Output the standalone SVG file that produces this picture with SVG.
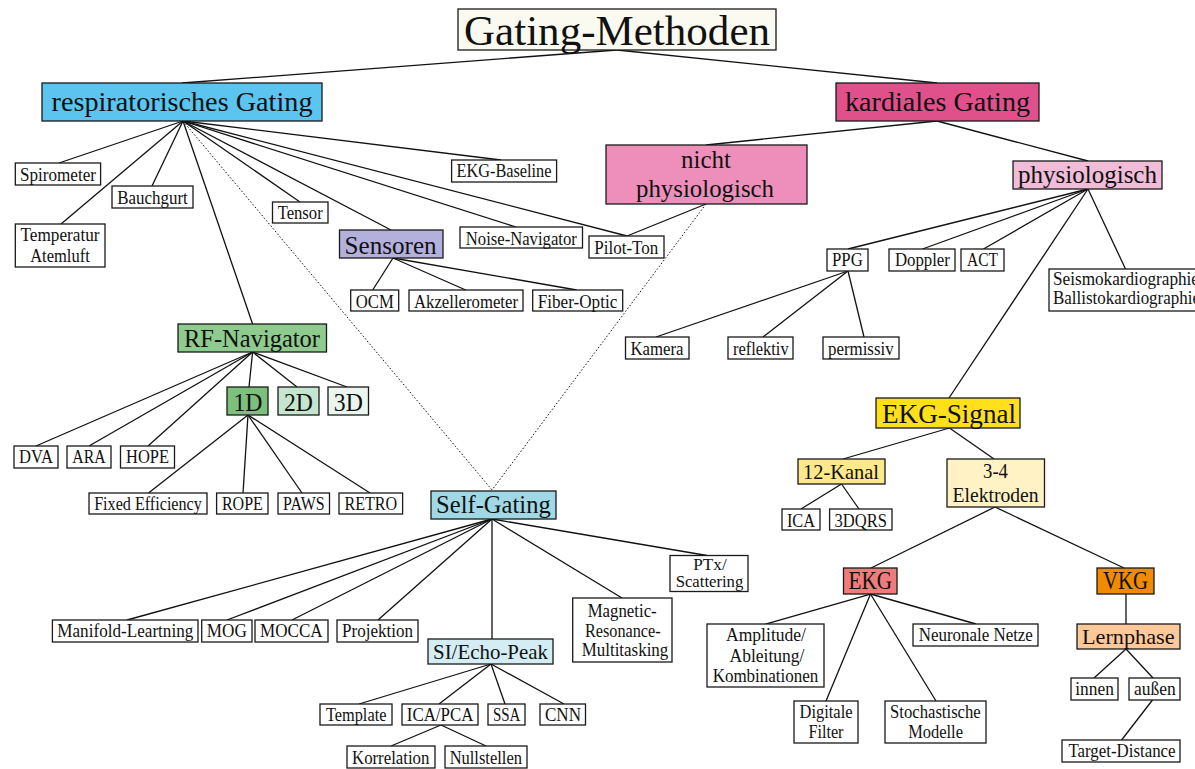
<svg xmlns="http://www.w3.org/2000/svg" width="1195" height="769" viewBox="0 0 1195 769">
<style>
rect{stroke:#1a1a1a;stroke-width:1.3;fill:#fff}
text{font-family:"Liberation Serif","Times New Roman",serif;fill:#111;text-anchor:middle}
.s{font-size:19px}
.m{font-size:22px}
.l{font-size:26px}
.c line{stroke:#111;stroke-width:1.3}
.c .d{stroke-width:1;stroke-dasharray:1.5 2}
</style>
<rect x="0" y="0" width="1195" height="769" style="fill:#fff;stroke:none"/>
<g id="connectors" class="c">
<line x1="617" y1="50" x2="182" y2="83"/>
<line x1="617" y1="50" x2="937" y2="83"/>
<line x1="183" y1="121" x2="59" y2="163"/>
<line x1="183" y1="121" x2="61" y2="224"/>
<line x1="183" y1="121" x2="152" y2="186"/>
<line x1="183" y1="121" x2="252.6" y2="324"/>
<line x1="183" y1="121" x2="300" y2="202"/>
<line x1="183" y1="121" x2="391" y2="230"/>
<line x1="183" y1="121" x2="516" y2="227"/>
<line x1="183" y1="121" x2="501" y2="160"/>
<line x1="183" y1="121" x2="627" y2="236"/>
<line class="d" x1="183" y1="121" x2="492" y2="490"/>
<line class="d" x1="706" y1="204" x2="492" y2="490"/>
<line x1="937" y1="121" x2="706" y2="145"/>
<line x1="937" y1="121" x2="1088" y2="161"/>
<line x1="706" y1="204" x2="627" y2="236"/>
<line x1="1088" y1="189" x2="848" y2="249"/>
<line x1="1088" y1="189" x2="922.5" y2="249"/>
<line x1="1088" y1="189" x2="983.5" y2="249"/>
<line x1="1088" y1="189" x2="1125.5" y2="269"/>
<line x1="1088" y1="189" x2="949" y2="398"/>
<line x1="393" y1="258" x2="372.7" y2="290"/>
<line x1="393" y1="258" x2="465.7" y2="290"/>
<line x1="393" y1="258" x2="576.7" y2="290"/>
<line x1="848" y1="271" x2="656" y2="337"/>
<line x1="848" y1="271" x2="763" y2="337"/>
<line x1="848" y1="271" x2="864" y2="337"/>
<line x1="252.6" y1="352" x2="36" y2="446"/>
<line x1="252.6" y1="352" x2="89" y2="446"/>
<line x1="252.6" y1="352" x2="148" y2="446"/>
<line x1="252.6" y1="352" x2="249" y2="387"/>
<line x1="252.6" y1="352" x2="297" y2="387"/>
<line x1="252.6" y1="352" x2="347" y2="387"/>
<line x1="248" y1="415" x2="148.5" y2="493"/>
<line x1="248" y1="415" x2="243" y2="493"/>
<line x1="248" y1="415" x2="302" y2="493"/>
<line x1="248" y1="415" x2="370" y2="493"/>
<line x1="492" y1="519" x2="127" y2="620"/>
<line x1="492" y1="519" x2="227" y2="620"/>
<line x1="492" y1="519" x2="292" y2="620"/>
<line x1="492" y1="519" x2="378" y2="620"/>
<line x1="492" y1="519" x2="492" y2="639"/>
<line x1="492" y1="519" x2="622" y2="598"/>
<line x1="492" y1="519" x2="707" y2="555.5"/>
<line x1="491" y1="664" x2="359" y2="704"/>
<line x1="491" y1="664" x2="439" y2="704"/>
<line x1="491" y1="664" x2="505" y2="704"/>
<line x1="491" y1="664" x2="564" y2="704"/>
<line x1="441" y1="725" x2="391" y2="746"/>
<line x1="441" y1="725" x2="486" y2="746"/>
<line x1="949.5" y1="428" x2="843" y2="459"/>
<line x1="949.5" y1="428" x2="994" y2="459"/>
<line x1="841.5" y1="484" x2="801" y2="509"/>
<line x1="841.5" y1="484" x2="859" y2="509"/>
<line x1="995" y1="507" x2="871" y2="568"/>
<line x1="995" y1="507" x2="1124" y2="568"/>
<line x1="870.5" y1="594" x2="765.5" y2="624"/>
<line x1="870.5" y1="594" x2="826" y2="701"/>
<line x1="870.5" y1="594" x2="936" y2="701"/>
<line x1="870.5" y1="594" x2="976" y2="624"/>
<line x1="1126" y1="594" x2="1126" y2="624"/>
<line x1="1126" y1="649" x2="1094" y2="678"/>
<line x1="1126" y1="649" x2="1153" y2="678"/>
<line x1="1152.5" y1="700" x2="1121.6" y2="740"/>
</g>

<g id="title"><rect x="458" y="9" width="318" height="41" style="fill:#fbfaf0"/><text x="617" y="45" style="font-size:42px" textLength="306" lengthAdjust="spacingAndGlyphs">Gating-Methoden</text></g>
<g id="resp"><rect x="42" y="83" width="280" height="38" style="fill:#5bc5f0"/><text x="182" y="111" style="font-size:28px" textLength="261" lengthAdjust="spacingAndGlyphs">respiratorisches Gating</text></g>
<g id="kard"><rect x="836" y="83" width="203" height="38" style="fill:#e0508a"/><text x="937.5" y="111" style="font-size:28px" textLength="185" lengthAdjust="spacingAndGlyphs">kardiales Gating</text></g>
<g id="nichtphys"><rect x="606" y="145" width="201" height="59" style="fill:#ee8fbb"/><text x="706" y="168" style="font-size:25px" textLength="50" lengthAdjust="spacingAndGlyphs">nicht</text><text x="705" y="197" style="font-size:25px" textLength="138" lengthAdjust="spacingAndGlyphs">physiologisch</text></g>
<g id="phys"><rect x="1013" y="161" width="149" height="28" style="fill:#f0bcd8"/><text x="1087.5" y="183" style="font-size:25px" textLength="139" lengthAdjust="spacingAndGlyphs">physiologisch</text></g>

<g id="spirometer"><rect x="15.3" y="163" width="85.3" height="22"/><text class="s" x="58" y="180.5" textLength="76" lengthAdjust="spacingAndGlyphs">Spirometer</text></g>
<g id="bauchgurt"><rect x="112" y="186" width="81" height="22"/><text class="s" x="152.5" y="203.5" textLength="70.5" lengthAdjust="spacingAndGlyphs">Bauchgurt</text></g>
<g id="temperatur"><rect x="15.3" y="224" width="89.7" height="43"/><text class="s" x="60" y="241" textLength="79" lengthAdjust="spacingAndGlyphs">Temperatur</text><text class="s" x="60" y="261.5" textLength="59.7" lengthAdjust="spacingAndGlyphs">Atemluft</text></g>
<g id="tensor"><rect x="272.5" y="202" width="55.5" height="21"/><text class="s" x="300.2" y="219" textLength="45" lengthAdjust="spacingAndGlyphs">Tensor</text></g>
<g id="ekgbaseline"><rect x="451.6" y="160" width="105" height="22"/><text class="s" x="504" y="177" textLength="95" lengthAdjust="spacingAndGlyphs">EKG-Baseline</text></g>
<g id="noisenav"><rect x="460" y="227" width="122.5" height="21"/><text class="s" x="521.3" y="244.5" textLength="111" lengthAdjust="spacingAndGlyphs">Noise-Navigator</text></g>
<g id="pilotton"><rect x="589" y="236" width="75" height="22"/><text class="s" x="626.3" y="254" textLength="64" lengthAdjust="spacingAndGlyphs">Pilot-Ton</text></g>
<g id="sensoren"><rect x="339.5" y="230" width="103.5" height="28" style="fill:#b3b0dc"/><text class="l" x="390.6" y="253.5" textLength="92" lengthAdjust="spacingAndGlyphs">Sensoren</text></g>
<g id="ocm"><rect x="350.7" y="290" width="48" height="21"/><text class="s" x="374.8" y="307.5" textLength="38" lengthAdjust="spacingAndGlyphs">OCM</text></g>
<g id="akzel"><rect x="409" y="290" width="114" height="21"/><text class="s" x="466" y="307.5" textLength="104" lengthAdjust="spacingAndGlyphs">Akzellerometer</text></g>
<g id="fiber"><rect x="532.7" y="290" width="90" height="21"/><text class="s" x="577.5" y="307.5" textLength="79.6" lengthAdjust="spacingAndGlyphs">Fiber-Optic</text></g>

<g id="ppg"><rect x="827" y="249" width="41" height="22"/><text class="s" x="847.4" y="266" textLength="30.8" lengthAdjust="spacingAndGlyphs">PPG</text></g>
<g id="doppler"><rect x="889" y="249" width="66" height="22"/><text class="s" x="922.4" y="266" textLength="55" lengthAdjust="spacingAndGlyphs">Doppler</text></g>
<g id="act"><rect x="961" y="249" width="43" height="22"/><text class="s" x="982.5" y="266" textLength="31" lengthAdjust="spacingAndGlyphs">ACT</text></g>
<g id="seismo"><rect x="1049" y="269" width="170" height="42"/><text class="s" x="1053" y="284.5" style="text-anchor:start" textLength="146" lengthAdjust="spacingAndGlyphs">Seismokardiographie</text><text class="s" x="1053" y="304" style="text-anchor:start" textLength="147" lengthAdjust="spacingAndGlyphs">Ballistokardiographie</text></g>
<g id="kamera"><rect x="625.5" y="337" width="63.5" height="22"/><text class="s" x="657" y="354.5" textLength="53" lengthAdjust="spacingAndGlyphs">Kamera</text></g>
<g id="reflektiv"><rect x="728" y="337" width="65" height="22"/><text class="s" x="760.8" y="354.5" textLength="55.7" lengthAdjust="spacingAndGlyphs">reflektiv</text></g>
<g id="permissiv"><rect x="823" y="337" width="76" height="22"/><text class="s" x="860.8" y="354.5" textLength="65.6" lengthAdjust="spacingAndGlyphs">permissiv</text></g>

<g id="rfnav"><rect x="178" y="324" width="148.5" height="28" style="fill:#8fca8f"/><text class="l" x="252" y="346.5" textLength="136" lengthAdjust="spacingAndGlyphs">RF-Navigator</text></g>
<g id="d1"><rect x="227" y="387" width="41" height="28" style="fill:#7dbf7d"/><text class="l" x="248" y="410.5" textLength="29" lengthAdjust="spacingAndGlyphs">1D</text></g>
<g id="d2"><rect x="278" y="387" width="41" height="28" style="fill:#c6e5cf"/><text class="l" x="298.5" y="410.5" textLength="29" lengthAdjust="spacingAndGlyphs">2D</text></g>
<g id="d3"><rect x="328" y="387" width="40.5" height="28" style="fill:#e9f5ed"/><text class="l" x="348.3" y="410.5" textLength="29" lengthAdjust="spacingAndGlyphs">3D</text></g>
<g id="dva"><rect x="14" y="446" width="44" height="22"/><text class="s" x="36" y="463" textLength="33.8" lengthAdjust="spacingAndGlyphs">DVA</text></g>
<g id="ara"><rect x="67" y="446" width="44" height="22"/><text class="s" x="89" y="463" textLength="33.3" lengthAdjust="spacingAndGlyphs">ARA</text></g>
<g id="hope"><rect x="120.5" y="446" width="54" height="22"/><text class="s" x="147.5" y="463" textLength="43" lengthAdjust="spacingAndGlyphs">HOPE</text></g>
<g id="fixed"><rect x="89" y="493" width="118" height="21"/><text class="s" x="148" y="510" textLength="107.7" lengthAdjust="spacingAndGlyphs">Fixed Efficiency</text></g>
<g id="rope"><rect x="216.6" y="493" width="51.4" height="21"/><text class="s" x="242.4" y="510" textLength="41" lengthAdjust="spacingAndGlyphs">ROPE</text></g>
<g id="paws"><rect x="278" y="493" width="51.5" height="21"/><text class="s" x="303.8" y="510" textLength="41.5" lengthAdjust="spacingAndGlyphs">PAWS</text></g>
<g id="retro"><rect x="339" y="493" width="63.6" height="21"/><text class="s" x="370.8" y="510" textLength="52.8" lengthAdjust="spacingAndGlyphs">RETRO</text></g>

<g id="selfgating"><rect x="431" y="491" width="125" height="28" style="fill:#a0d9e5"/><text class="l" x="493.4" y="513" textLength="114.7" lengthAdjust="spacingAndGlyphs">Self-Gating</text></g>
<g id="manifold"><rect x="52.4" y="620" width="145.6" height="22"/><text class="s" x="125.3" y="637" textLength="136" lengthAdjust="spacingAndGlyphs">Manifold-Leartning</text></g>
<g id="mog"><rect x="201.7" y="620" width="50.3" height="22"/><text class="s" x="226.8" y="637" textLength="40" lengthAdjust="spacingAndGlyphs">MOG</text></g>
<g id="mocca"><rect x="255" y="620" width="73" height="22"/><text class="s" x="291.3" y="637" textLength="62.6" lengthAdjust="spacingAndGlyphs">MOCCA</text></g>
<g id="projektion"><rect x="337" y="620" width="81" height="22"/><text class="s" x="377.5" y="637" textLength="71" lengthAdjust="spacingAndGlyphs">Projektion</text></g>
<g id="magnetic"><rect x="572.7" y="598" width="99.3" height="64"/><text class="s" x="622.2" y="616.5" textLength="69" lengthAdjust="spacingAndGlyphs">Magnetic-</text><text class="s" x="622.8" y="636.5" textLength="75.7" lengthAdjust="spacingAndGlyphs">Resonance-</text><text class="s" x="625" y="655.5" textLength="86.7" lengthAdjust="spacingAndGlyphs">Multitasking</text></g>
<g id="ptx"><rect x="670" y="555.5" width="78" height="36"/><text x="710" y="570" style="font-size:16px" textLength="33.3" lengthAdjust="spacingAndGlyphs">PTx/</text><text x="709.5" y="587" style="font-size:16px" textLength="67.6" lengthAdjust="spacingAndGlyphs">Scattering</text></g>
<g id="siecho"><rect x="428" y="639" width="125" height="25" style="fill:#d4edf4"/><text class="m" x="490.5" y="659" textLength="115" lengthAdjust="spacingAndGlyphs">SI/Echo-Peak</text></g>
<g id="template"><rect x="320" y="704" width="72" height="21"/><text class="s" x="356.2" y="720.5" textLength="60.5" lengthAdjust="spacingAndGlyphs">Template</text></g>
<g id="icapca"><rect x="402" y="704" width="76" height="21"/><text class="s" x="440.1" y="720.5" textLength="66.6" lengthAdjust="spacingAndGlyphs">ICA/PCA</text></g>
<g id="ssa"><rect x="488" y="704" width="37" height="21"/><text class="s" x="506.7" y="720.5" textLength="27.5" lengthAdjust="spacingAndGlyphs">SSA</text></g>
<g id="cnn"><rect x="540" y="704" width="45.5" height="21"/><text class="s" x="563" y="720.5" textLength="36" lengthAdjust="spacingAndGlyphs">CNN</text></g>
<g id="korrelation"><rect x="347" y="746" width="88" height="22"/><text class="s" x="390.7" y="763.5" textLength="77.4" lengthAdjust="spacingAndGlyphs">Korrelation</text></g>
<g id="nullstellen"><rect x="445" y="746" width="82" height="22"/><text class="s" x="485.8" y="763.5" textLength="72.3" lengthAdjust="spacingAndGlyphs">Nullstellen</text></g>

<g id="ekgsignal"><rect x="876" y="398" width="144" height="30" style="fill:#ffe01a"/><text x="949" y="422.5" style="font-size:28px" textLength="134" lengthAdjust="spacingAndGlyphs">EKG-Signal</text></g>
<g id="kanal12"><rect x="798" y="459" width="87" height="25" style="fill:#fde98c"/><text class="m" x="841" y="479" textLength="76" lengthAdjust="spacingAndGlyphs">12-Kanal</text></g>
<g id="elektroden"><rect x="947" y="459" width="97.5" height="48" style="fill:#fff3c6"/><text x="995.5" y="477.5" style="font-size:21px" textLength="25" lengthAdjust="spacingAndGlyphs">3-4</text><text x="995.6" y="501.5" style="font-size:21px" textLength="86" lengthAdjust="spacingAndGlyphs">Elektroden</text></g>
<g id="ica"><rect x="782" y="509" width="38" height="21"/><text class="s" x="801" y="526.5" textLength="28.2" lengthAdjust="spacingAndGlyphs">ICA</text></g>
<g id="dqrs"><rect x="829.6" y="509" width="62.4" height="21"/><text class="s" x="860.8" y="526.5" textLength="52.5" lengthAdjust="spacingAndGlyphs">3DQRS</text></g>
<g id="ekg"><rect x="843.5" y="568" width="53.5" height="26" style="fill:#f07b7b"/><text x="870.3" y="589" style="font-size:25px" textLength="43.5" lengthAdjust="spacingAndGlyphs">EKG</text></g>
<g id="vkg"><rect x="1097" y="568" width="57" height="26" style="fill:#f08a00"/><text x="1125.5" y="589" style="font-size:25px" textLength="45" lengthAdjust="spacingAndGlyphs">VKG</text></g>
<g id="amplitude"><rect x="707" y="624" width="117" height="63"/><text class="s" x="766" y="641.3" textLength="80" lengthAdjust="spacingAndGlyphs">Amplitude/</text><text class="s" x="767" y="661.5" textLength="75" lengthAdjust="spacingAndGlyphs">Ableitung/</text><text class="s" x="765.5" y="681.5" textLength="105.7" lengthAdjust="spacingAndGlyphs">Kombinationen</text></g>
<g id="neuronale"><rect x="913" y="624" width="125" height="22"/><text class="s" x="975.8" y="640.5" textLength="114.2" lengthAdjust="spacingAndGlyphs">Neuronale Netze</text></g>
<g id="digitale"><rect x="794" y="701" width="64" height="42"/><text class="s" x="826" y="718.3" textLength="53" lengthAdjust="spacingAndGlyphs">Digitale</text><text class="s" x="826" y="738.3" textLength="35" lengthAdjust="spacingAndGlyphs">Filter</text></g>
<g id="stochastische"><rect x="885" y="701" width="101" height="42"/><text class="s" x="935.4" y="718.3" textLength="90.7" lengthAdjust="spacingAndGlyphs">Stochastische</text><text class="s" x="935.6" y="738.3" textLength="54.8" lengthAdjust="spacingAndGlyphs">Modelle</text></g>
<g id="lernphase"><rect x="1077" y="624" width="103" height="25" style="fill:#fdc89a"/><text class="m" x="1128.3" y="644" textLength="92.5" lengthAdjust="spacingAndGlyphs">Lernphase</text></g>
<g id="innen"><rect x="1071" y="678" width="47" height="22"/><text class="s" x="1094.6" y="695" textLength="38.6" lengthAdjust="spacingAndGlyphs">innen</text></g>
<g id="aussen"><rect x="1129" y="678" width="51" height="22"/><text class="s" x="1154.8" y="695" textLength="41.7" lengthAdjust="spacingAndGlyphs">außen</text></g>
<g id="target"><rect x="1062" y="740" width="118" height="22"/><text class="s" x="1122" y="757" textLength="107.2" lengthAdjust="spacingAndGlyphs">Target-Distance</text></g>
</svg>
